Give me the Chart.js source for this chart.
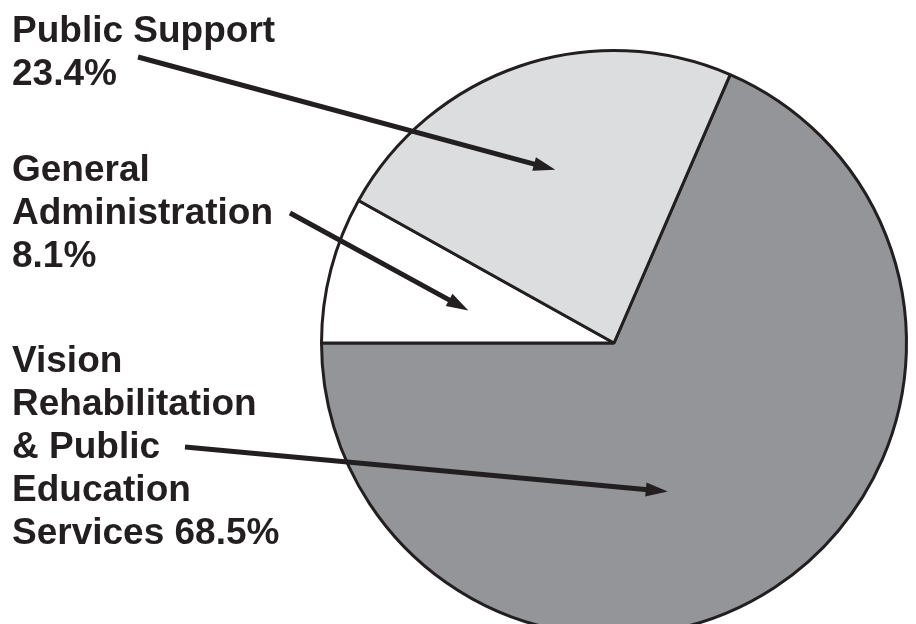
<!DOCTYPE html>
<html>
<head>
<meta charset="utf-8">
<script src="https://cdn.jsdelivr.net/npm/chart.js@4"></script>
<style>
  html, body { margin: 0; padding: 0; background: #ffffff; overflow: hidden; width: 916px; height: 624px; }
  #wrap { position: absolute; left: 0; top: 0; width: 916px; height: 686px; }
</style>
</head>
<body>
<div id="wrap"><canvas id="c" width="916" height="686"></canvas></div>
<script>
// ---- data ----
const categories = ["Vision Rehabilitation & Public Education Services", "General Administration", "Public Support"];
const values = [68.5, 8.1, 23.4];
const sliceColors = ["#939598", "#ffffff", "#dcdddf"];
const labelLines = [
  ["Vision", "Rehabilitation", "& Public", "Education", "Services 68.5%"],
  ["General", "Administration", "8.1%"],
  ["Public Support", "23.4%"]
];

// ---- annotation layout (text blocks and arrows) ----
const labelLayout = [
  { x: 12, y: 372, tail: [185, 447], angOff: 13.4, frac: 0.54 },
  { x: 12, y: 181, tail: [290, 213], angOff: -2.0, frac: 0.51 },
  { x: 12, y: 42,  tail: [138, 57],  angOff: 0.0,  frac: 0.625 }
];
const lineHeight = 43;
const ink = "#231f20";

const total = values.reduce((a, b) => a + b, 0);
// Vision slice ends at the 9 o'clock position
const startRotation = 270 - values[0] / total * 360;

const annotations = {
  id: 'annotations',
  afterDraw(chart) {
    const ctx = chart.ctx;
    const meta = chart.getDatasetMeta(0);
    ctx.save();
    ctx.fillStyle = ink;
    ctx.strokeStyle = ink;
    ctx.font = "bold 37px 'Liberation Sans', Arial, Helvetica, sans-serif";
    ctx.textBaseline = "alphabetic";
    ctx.textAlign = "left";
    labelLines.forEach((lines, i) => {
      const L = labelLayout[i];
      lines.forEach((t, j) => ctx.fillText(t, L.x, L.y + j * lineHeight));
      const arc = meta.data[i];
      const mid = (arc.startAngle + arc.endAngle) / 2 + L.angOff * Math.PI / 180;
      const r = arc.outerRadius * L.frac;
      const tx = arc.x + Math.cos(mid) * r;
      const ty = arc.y + Math.sin(mid) * r;
      const [sx, sy] = L.tail;
      const a = Math.atan2(ty - sy, tx - sx);
      const headLen = 22, headW = 7;
      const bx = tx - Math.cos(a) * headLen, by = ty - Math.sin(a) * headLen;
      ctx.lineWidth = 5;
      ctx.lineCap = "butt";
      ctx.beginPath();
      ctx.moveTo(sx, sy);
      ctx.lineTo(bx + Math.cos(a) * 2, by + Math.sin(a) * 2);
      ctx.stroke();
      ctx.beginPath();
      ctx.moveTo(tx, ty);
      ctx.lineTo(bx + Math.cos(a + Math.PI / 2) * headW, by + Math.sin(a + Math.PI / 2) * headW);
      ctx.lineTo(bx + Math.cos(a - Math.PI / 2) * headW, by + Math.sin(a - Math.PI / 2) * headW);
      ctx.closePath();
      ctx.fill();
    });
    ctx.restore();
  }
};

new Chart(document.getElementById('c'), {
  type: 'pie',
  data: {
    labels: categories,
    datasets: [{
      data: values,
      backgroundColor: sliceColors,
      borderColor: ink,
      borderWidth: 3,
      hoverOffset: 0
    }]
  },
  options: {
    responsive: false,
    animation: false,
    rotation: startRotation,
    layout: { padding: { left: 320, right: 8, top: 49, bottom: 49 } },
    plugins: {
      legend: { display: false },
      tooltip: { enabled: false },
      title: { display: false }
    },
    events: []
  },
  plugins: [annotations]
});
</script>
</body>
</html>
